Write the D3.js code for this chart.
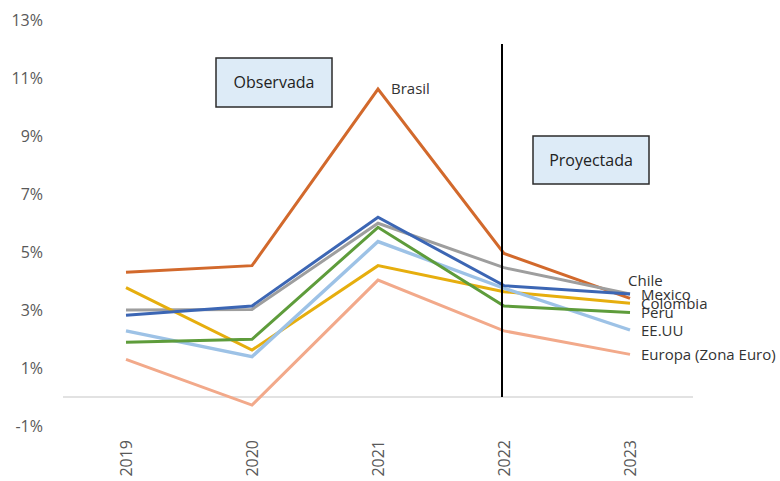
<!DOCTYPE html>
<html>
<head>
<meta charset="utf-8">
<script src="https://cdn.jsdelivr.net/npm/d3@7"></script>
<style>
  html, body { margin: 0; padding: 0; background: #fff; }
  svg { display: block; }
</style>
</head>
<body>
<svg id="chart" width="780" height="481"></svg>
<script>
// Years on the horizontal axis
const years = ["2019", "2020", "2021", "2022", "2023"];

// Annual inflation (%) per economy
const brasil   = [4.3, 4.53, 10.62, 4.95, 3.4];
const chile    = [3.0, 3.02, 5.99, 4.46, 3.55];
const mexico   = [2.82, 3.14, 6.2, 3.84, 3.55];
const colombia = [3.77, 1.62, 4.53, 3.63, 3.23];
const peru     = [1.89, 1.99, 5.85, 3.14, 2.91];
const eeuu     = [2.28, 1.39, 5.36, 3.75, 2.31];
const europa   = [1.3, -0.28, 4.03, 2.28, 1.47];

// Y-axis tick values (%)
const yTicks = [-1, 1, 3, 5, 7, 9, 11, 13];

// Year where observed data ends and projections begin
const splitYear = "2022";

const series = [
  { name: "Brasil", values: brasil, color: "#D2692C" },
  { name: "Chile", values: chile, color: "#9E9E9E" },
  { name: "Colombia", values: colombia, color: "#E6AE0E" },
  { name: "EE.UU", values: eeuu, color: "#9DC2E6", width: 3.4 },
  { name: "Peru", values: peru, color: "#5E9C3B" },
  { name: "Europa (Zona Euro)", values: europa, color: "#F2A98A" },
  { name: "Mexico", values: mexico, color: "#3C66B4" }
];

const svg = d3.select("#chart");
const plotLeft = 63, plotRight = 693, plotTop = 20, plotBottom = 426;

const x = d3.scaleBand().domain(years).range([plotLeft, plotRight]);
const y = d3.scaleLinear().domain([-1, 13]).range([plotBottom, plotTop]);
const cx = d => x(d) + x.bandwidth() / 2;

// Y axis labels (no line, no tick marks)
const yAxis = d3.axisLeft(y).tickValues(yTicks).tickSize(0).tickPadding(0)
  .tickFormat(d => d + "%");
const yg = svg.append("g").attr("transform", "translate(43,0)").call(yAxis);
yg.select(".domain").remove();
yg.selectAll("text")
  .attr("fill", "#595959")
  .style("font-family", "'Open Sans', sans-serif")
  .style("font-size", "16px");

// Category axis drawn along the zero line
svg.append("line")
  .attr("x1", plotLeft).attr("x2", plotRight)
  .attr("y1", y(0)).attr("y2", y(0))
  .attr("stroke", "#D9D9D9").attr("stroke-width", 1.3);

// Rotated year labels
const xg = svg.append("g").attr("transform", "translate(0,440)")
  .call(d3.axisBottom(x).tickSize(0).tickPadding(0));
xg.select(".domain").remove();
xg.selectAll("text")
  .attr("transform", "rotate(-90)")
  .attr("text-anchor", "end")
  .attr("dy", "0.35em")
  .attr("x", 0).attr("y", 0)
  .attr("fill", "#595959")
  .style("font-family", "'Open Sans', sans-serif")
  .style("font-size", "16px");
xg.selectAll(".tick").attr("transform", d => `translate(${cx(d)},0)`);

// Lines
const line = d3.line().x((d, i) => cx(years[i])).y(d => y(d));
svg.append("g").selectAll("path").data(series).join("path")
  .attr("d", d => line(d.values))
  .attr("fill", "none")
  .attr("stroke", d => d.color)
  .attr("stroke-width", d => d.width || 3)
  .attr("stroke-linejoin", "miter");

// Divider between observed and projected years
svg.append("line")
  .attr("x1", cx(splitYear) - 2).attr("x2", cx(splitYear) - 2)
  .attr("y1", 44).attr("y2", y(0))
  .attr("stroke", "#000").attr("stroke-width", 2);

// Annotation boxes
function box(x0, y0, w, h, label) {
  svg.append("rect")
    .attr("x", x0).attr("y", y0).attr("width", w).attr("height", h)
    .attr("fill", "#DDEBF7").attr("stroke", "#2B2B2B").attr("stroke-width", 1.5);
  svg.append("text")
    .attr("x", x0 + w / 2).attr("y", y0 + h / 2)
    .attr("text-anchor", "middle").attr("dy", "0.35em")
    .attr("fill", "#222")
    .style("font-family", "'Open Sans', sans-serif")
    .style("font-size", "16px")
    .text(label);
}
box(216, 58, 116, 49, "Observada");
box(533, 136, 116, 48, "Proyectada");

// Series name labels
const labels = [
  { name: "Brasil", x: 391, y: 89 },
  { name: "Chile", x: 628, y: 281 },
  { name: "Mexico", x: 641, y: 295 },
  { name: "Colombia", x: 641, y: 304 },
  { name: "Peru", x: 641, y: 313 },
  { name: "EE.UU", x: 641, y: 331 },
  { name: "Europa (Zona Euro)", x: 641, y: 355 }
];
svg.append("g").selectAll("text").data(labels).join("text")
  .attr("x", d => d.x).attr("y", d => d.y).attr("dy", "0.35em")
  .attr("fill", "#333")
  .style("font-family", "'Open Sans', sans-serif")
  .style("font-size", "15px")
  .text(d => d.name);
</script>
</body>
</html>
